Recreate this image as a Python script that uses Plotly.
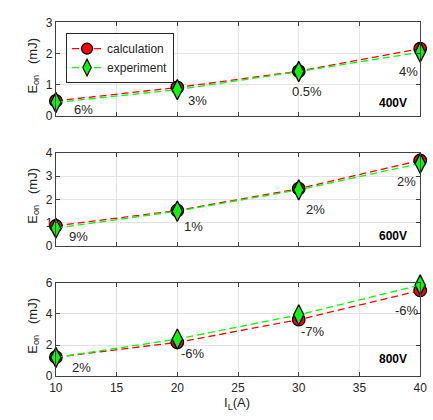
import plotly.graph_objects as go

I_L = [10, 20, 30, 40]

calc_400 = [0.49, 0.92, 1.44, 2.16]
exp_400 = [0.44, 0.85, 1.43, 2.05]
calc_600 = [0.86, 1.52, 2.46, 3.68]
exp_600 = [0.76, 1.49, 2.41, 3.55]
calc_800 = [1.22, 2.17, 3.62, 5.49]
exp_800 = [1.20, 2.38, 3.93, 5.84]

err_400 = ["6%", "3%", "0.5%", "4%"]
err_600 = ["9%", "1%", "2%", "2%"]
err_800 = ["2%", "-6%", "-7%", "-6%"]

lbl_x_400 = [12.3, 21.7, 30.7, 39.0]
lbl_y_400 = [0.22, 0.50, 0.80, 1.42]
lbl_x_600 = [11.9, 21.3, 31.4, 38.9]
lbl_y_600 = [0.39, 0.83, 1.57, 2.78]
lbl_x_800 = [12.1, 21.3, 31.2, 38.9]
lbl_y_800 = [0.58, 1.45, 2.86, 4.19]

voltages = ["400V", "600V", "800V"]
y_ranges = [[0, 3], [0, 4], [0, 6]]
y_dtick = [1, 1, 2]

W, H = 433, 420
x_dom = [50.5 / W, 427 / W]
y_px = [(16, 113), (151, 247), (285, 382)]
y_doms = [[1 - b / H, 1 - t / H] for t, b in y_px]

fig = go.Figure()
panels = [
    (calc_400, exp_400, err_400, lbl_x_400, lbl_y_400),
    (calc_600, exp_600, err_600, lbl_x_600, lbl_y_600),
    (calc_800, exp_800, err_800, lbl_x_800, lbl_y_800),
]

font_fam = "Liberation Sans, Arial, sans-serif"
axis_col = "#404040"
tick_col = "#262626"
grid_col = "#e3e3e3"

red_line = dict(color="#ff0000", width=1.3, dash="7px,4px")
green_line = dict(color="#00ff00", width=1.3, dash="7px,4px")

annotations = []
for i, (c, e, err, lx, ly) in enumerate(panels):
    xa = "x" if i == 0 else f"x{i+1}"
    ya = "y" if i == 0 else f"y{i+1}"
    fig.add_trace(go.Scatter(
        x=I_L, y=c, mode="lines+markers", name="calculation",
        showlegend=False, xaxis=xa, yaxis=ya, line=red_line,
        marker=dict(symbol="circle", size=12.5, color="#ff0000",
                    line=dict(color="black", width=1.3)),
    ))
    fig.add_trace(go.Scatter(
        x=I_L, y=e, mode="lines+markers", name="experiment",
        showlegend=False, xaxis=xa, yaxis=ya, line=green_line,
        marker=dict(symbol="diamond-tall", size=14.5, color="#00ff00",
                    line=dict(color="black", width=1.3)),
    ))
    for t, px_, py_ in zip(err, lx, ly):
        annotations.append(dict(
            x=px_, y=py_, xref=xa, yref=ya, text=t, showarrow=False,
            font=dict(family=font_fam, size=13, color="#262626"),
        ))
    annotations.append(dict(
        x=37.8, y=[0.42, 0.44, 1.08][i], xref=xa, yref=ya, text=f"<b>{voltages[i]}</b>",
        showarrow=False, font=dict(family=font_fam, size=12, color="black"),
    ))
    t, b = y_px[i]
    annotations.append(dict(
        x=27 / W, y=1 - ((t + b) / 2 - 4) / H, xref="paper", yref="paper",
        xanchor="center", yanchor="middle",
        text="E<sub>on</sub>   (mJ)", textangle=-90, showarrow=False,
        font=dict(family=font_fam, size=13, color=tick_col),
    ))

# legend-only entries
fig.add_trace(go.Scatter(
    x=[None], y=[None], mode="lines+markers", name="calculation",
    xaxis="x", yaxis="y", line=red_line,
    marker=dict(symbol="circle", size=11, color="#ff0000",
                line=dict(color="black", width=1.2)),
))
fig.add_trace(go.Scatter(
    x=[None], y=[None], mode="lines+markers", name="experiment",
    xaxis="x", yaxis="y", line=green_line,
    marker=dict(symbol="diamond-tall", size=12, color="#00ff00",
                line=dict(color="black", width=1.2)),
))

annotations.append(dict(
    x=238 / W, y=1 - 410 / H, xref="paper", yref="paper",
    xanchor="center", yanchor="middle",
    text="I<sub>L</sub>(A)", showarrow=False,
    font=dict(family=font_fam, size=13, color=tick_col),
))

layout = dict(
    width=W, height=H, margin=dict(l=0, r=0, t=0, b=0),
    paper_bgcolor="white", plot_bgcolor="white",
    font=dict(family=font_fam, size=12, color=tick_col),
    annotations=annotations,
    legend=dict(
        x=61 / W, y=1 - 27 / H, xanchor="left", yanchor="top",
        bgcolor="white", bordercolor="#262626", borderwidth=1,
        font=dict(family=font_fam, size=12, color=tick_col),
        tracegroupgap=0, itemwidth=30,
    ),
)
for i in range(3):
    xk = "xaxis" if i == 0 else f"xaxis{i+1}"
    yk = "yaxis" if i == 0 else f"yaxis{i+1}"
    ya = "y" if i == 0 else f"y{i+1}"
    xa = "x" if i == 0 else f"x{i+1}"
    layout[xk] = dict(
        domain=x_dom, anchor=ya, range=[10, 40], dtick=5, tick0=10,
        showticklabels=(i == 2), ticks="inside", ticklen=4, tickcolor=axis_col,
        showline=True, linecolor=axis_col, linewidth=1, mirror="ticks",
        showgrid=True, gridcolor=grid_col, zeroline=False,
        tickfont=dict(size=12, color=tick_col), ticklabeloverflow="allow",
    )
    layout[yk] = dict(
        domain=y_doms[i], anchor=xa, range=y_ranges[i], dtick=y_dtick[i], tick0=0,
        ticks="inside", ticklen=4, tickcolor=axis_col,
        showline=True, linecolor=axis_col, linewidth=1, mirror="ticks",
        showgrid=True, gridcolor=grid_col, zeroline=False,
        tickfont=dict(size=12, color=tick_col), ticklabeloverflow="allow",
    )
fig.update_layout(**layout)
for tr in fig.data:
    tr.cliponaxis = False

fig.write_html("out.html")
